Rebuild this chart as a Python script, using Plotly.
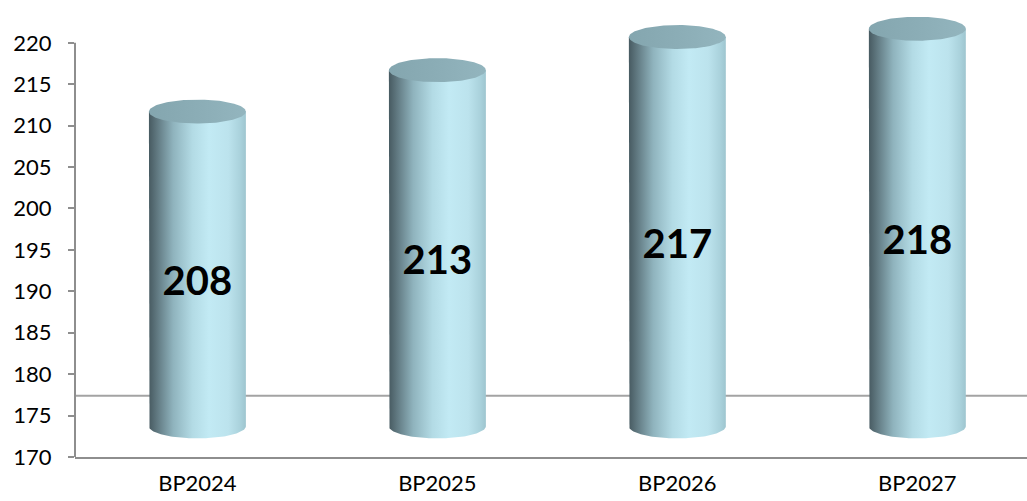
import numpy as np
import plotly.graph_objects as go

# Data
categories = ["BP2024", "BP2025", "BP2026", "BP2027"]
values = [208, 213, 217, 218]
y_ticks = [170, 175, 180, 185, 190, 195, 200, 205, 210, 215, 220]
Y_MIN, Y_MAX = 170, 220

# 3D look parameters (in axis units)
BASE = 170          # floor of the value axis
DEPTH = 3.7         # vertical shift of the cylinder axis into depth
HALF_W = 0.202      # cylinder radius along x (category units)
HALF_H = 1.45       # ellipse half-height (value units)
LABEL_DROP = 1.95
HEADROOM = 3.6      # extra space above the last tick for the cylinder tops

FONT = "Lato"
AXIS_COLOR = "#8e8e8e"

side_scale = [
    [0.0, "#475a61"],
    [0.08, "#5f777f"],
    [0.25, "#8fb3bd"],
    [0.45, "#b3dbe5"],
    [0.62, "#c2eaf4"],
    [0.82, "#bce3ed"],
    [0.94, "#aad2dc"],
    [1.0, "#9ec5cf"],
]
top_scale = [
    [0.0, "#84a6af"],
    [0.5, "#8badb6"],
    [1.0, "#93b5be"],
]

fig = go.Figure()

for i, v in enumerate(values):
    xc = i
    yb = BASE + DEPTH
    yt = v + DEPTH
    t = np.linspace(np.pi, 2 * np.pi, 80)
    xs = np.concatenate([[xc - HALF_W, xc - HALF_W], xc + HALF_W * np.cos(t), [xc + HALF_W, xc - HALF_W]])
    ys = np.concatenate([[yt, yb], yb + HALF_H * np.sin(t), [yt, yt]])
    fig.add_trace(go.Scatter(
        x=xs, y=ys, mode="lines", fill="toself",
        line=dict(width=0, color="rgba(0,0,0,0)"),
        fillgradient=dict(type="horizontal", colorscale=side_scale),
        hoverinfo="skip", showlegend=False,
    ))
    tt = np.linspace(0, 2 * np.pi, 160)
    fig.add_trace(go.Scatter(
        x=xc + HALF_W * np.cos(tt), y=yt + HALF_H * np.sin(tt),
        mode="lines", fill="toself",
        line=dict(width=0, color="rgba(0,0,0,0)"),
        fillgradient=dict(type="horizontal", colorscale=top_scale),
        hoverinfo="skip", showlegend=False,
    ))

# Value labels inside the cylinders
fig.add_trace(go.Scatter(
    x=list(range(len(values))),
    y=[(BASE + v) / 2 + DEPTH - LABEL_DROP for v in values],
    mode="text",
    text=[str(v) for v in values],
    textfont=dict(family=FONT, size=40, color="black", weight="bold"),
    hoverinfo="skip", showlegend=False,
))

# Back edge of the floor
fig.add_shape(type="line", xref="paper", yref="y",
              x0=0, x1=1, y0=BASE + 2 * DEPTH, y1=BASE + 2 * DEPTH,
              line=dict(color="#a3a3a3", width=2), layer="below")

# Value axis line, only over the labelled range
fig.add_shape(type="line", xref="paper", yref="y",
              x0=0, x1=0, y0=Y_MIN, y1=Y_MAX,
              line=dict(color=AXIS_COLOR, width=2), layer="below")

fig.update_layout(
    width=1027, height=501,
    margin=dict(l=75, r=0, t=13, b=44),
    paper_bgcolor="white", plot_bgcolor="white",
    font=dict(family=FONT, size=22, color="black"),
)
fig.update_xaxes(
    range=[-0.51, 3.457],
    tickmode="array", tickvals=list(range(len(categories))), ticktext=categories,
    showgrid=False, zeroline=False,
    showline=True, linecolor=AXIS_COLOR, linewidth=2,
    ticks="", ticklabelstandoff=6, automargin=False,
    tickfont=dict(family=FONT, size=22, color="black"),
)
fig.update_yaxes(
    range=[Y_MIN, Y_MAX + HEADROOM],
    tickmode="array", tickvals=y_ticks,
    showgrid=False, zeroline=False,
    showline=False, automargin=False,
    ticks="outside", ticklen=6, tickcolor=AXIS_COLOR, tickwidth=2,
    ticklabelstandoff=12,
    tickfont=dict(family=FONT, size=22, color="black"),
)

fig.write_html("out.html")
